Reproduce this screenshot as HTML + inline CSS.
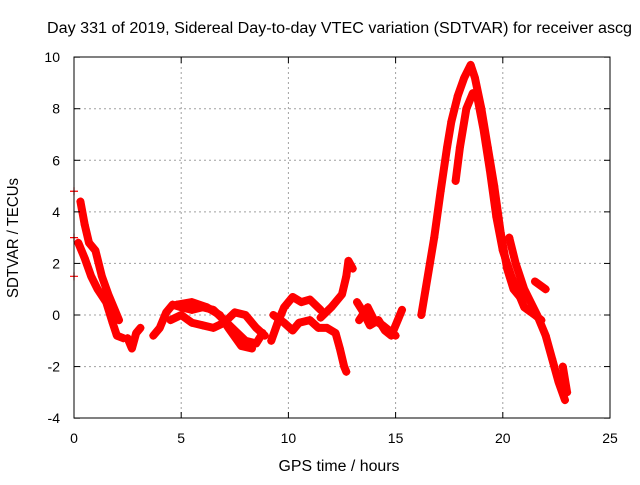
<!DOCTYPE html>
<html><head><meta charset="utf-8"><style>
body{margin:0;background:#fff}
svg text{font-family:"Liberation Sans",sans-serif;font-size:14px;fill:#000}
</style></head><body>
<svg id="chart" width="640" height="480" xmlns="http://www.w3.org/2000/svg">
<rect width="640" height="480" fill="#fff"/>
<text x="47" y="33" style="font-size:15.5px" textLength="585" lengthAdjust="spacingAndGlyphs">Day 331 of 2019, Sidereal Day-to-day VTEC variation (SDTVAR) for receiver ascg</text>
<g id="grid"></g>
<g id="data"></g>
<rect x="74" y="57" width="536" height="361" fill="none" stroke="#000" stroke-width="1"/>
<g id="ticks"></g>
<text x="339" y="471" text-anchor="middle" style="font-size:15.5px" textLength="121" lengthAdjust="spacingAndGlyphs">GPS time / hours</text>
<text transform="translate(18,238) rotate(-90)" text-anchor="middle" style="font-size:15.5px" textLength="120" lengthAdjust="spacingAndGlyphs">SDTVAR / TECUs</text>
</svg>
<script>
const xTicks=[0,5,10,15,20,25];
const yTicks=[-4,-2,0,2,4,6,8,10];
const track1=[[0.3,4.4],[0.5,3.5],[0.7,2.8],[1.0,2.5],[1.3,1.5],[1.6,0.8],[1.9,0.2],[2.1,-0.2]];
const track2=[[0.2,2.8],[0.5,2.2],[0.8,1.5],[1.1,1.0],[1.5,0.5],[1.8,-0.3],[2.0,-0.8],[2.3,-0.9]];
const track3=[[2.5,-0.9],[2.7,-1.3],[2.9,-0.7],[3.1,-0.5]];
const trackA=[[3.7,-0.8],[4.0,-0.5],[4.3,0.1],[4.6,0.4],[5.0,0.3],[5.5,0.2],[6.0,0.3],[6.5,0.2],[7.0,-0.2],[7.5,-0.6],[8.0,-1.0],[8.5,-1.1],[8.8,-0.7]];
const trackB=[[4.5,-0.2],[5.0,0],[5.5,-0.3],[6.0,-0.4],[6.5,-0.5],[7.0,-0.3],[7.5,0.1],[8.0,0.0],[8.5,-0.5],[8.9,-0.8]];
const trackC=[[4.8,0.4],[5.5,0.5],[6.2,0.3],[6.8,0],[7.2,-0.5],[7.8,-1.2],[8.3,-1.3]];
const trackD=[[9.2,-1.0],[9.5,-0.3],[9.8,0.3],[10.2,0.7],[10.6,0.5],[11,0.6],[11.5,0.2]];
const trackE=[[9.3,0],[9.8,-0.3],[10.2,-0.6],[10.5,-0.3],[11,-0.2],[11.4,-0.5],[11.8,-0.5],[12.2,-0.7],[12.4,-1.3],[12.6,-2.0],[12.7,-2.2]];
const trackF=[[11.5,-0.1],[12,0.3],[12.5,0.8],[12.7,1.5],[12.8,2.1],[13,1.8]];
const trackG=[[13.2,0.5],[13.5,0.1],[13.8,-0.4],[14.2,-0.2],[14.5,-0.6],[14.8,-0.8],[15.1,-0.2],[15.3,0.2]];
const trackH=[[13.3,-0.2],[13.7,0.3],[14.0,-0.2],[14.4,-0.4],[15.0,-0.8]];
const peak1=[[16.2,0.0],[16.4,1.0],[16.8,3.0],[17.1,4.8],[17.4,6.5],[17.6,7.5],[17.9,8.5],[18.2,9.2],[18.5,9.7],[18.7,9.2],[19.0,8.0],[19.3,6.5],[19.6,5.0],[19.9,3.2],[20.2,1.8],[20.5,1.0],[20.8,0.7]];
const peak2=[[17.8,5.2],[18.0,6.5],[18.3,8.0],[18.6,8.6],[18.8,8.5],[19.1,7.2],[19.4,5.6],[19.7,3.8],[20.0,2.5],[20.4,1.5],[21,0.3],[21.5,0.0],[21.8,-0.2]];
const tail=[[20.3,3.0],[20.6,2.0],[21.0,1.0],[21.3,0.5],[21.6,0.0],[22.0,-0.8],[22.3,-1.7],[22.6,-2.6],[22.9,-3.3]];
const tail2=[[21.5,1.3],[22.0,1.0]];
const tail3=[[22.8,-2.0],[23.0,-3.0]];
const singles=[[0,4.8],[0,3.0],[0,1.5]];
const tracks=[track1,track2,track3,trackA,trackB,trackC,trackD,trackE,trackF,trackG,trackH,peak1,peak2,tail,tail2,tail3];

const X=v=>74+v*(536/25), Y=v=>315-v*(361/14);
const NS='http://www.w3.org/2000/svg';
const mk=(t,a)=>{const e=document.createElementNS(NS,t);for(const k in a)e.setAttribute(k,a[k]);return e;};
const grid=document.getElementById('grid'),ticks=document.getElementById('ticks'),data=document.getElementById('data');
xTicks.forEach(v=>{
  if(v>0&&v<25){const g=mk('line',{x1:X(v),x2:X(v),y1:57,y2:418,stroke:'#a0a0a0','stroke-dasharray':'2,3'});
  
  grid.appendChild(g);}
  ticks.appendChild(mk('line',{x1:X(v),x2:X(v),y1:418,y2:412,stroke:'#000'}));
  ticks.appendChild(mk('line',{x1:X(v),x2:X(v),y1:57,y2:63,stroke:'#000'}));
  const t=mk('text',{x:X(v),y:443,'text-anchor':'middle'});t.textContent=v;
  
  ticks.appendChild(t);
});
yTicks.forEach(v=>{
  if(v>-4&&v<10){const g=mk('line',{x1:74,x2:610,y1:Y(v),y2:Y(v),stroke:'#a0a0a0','stroke-dasharray':'2,3'});
  
  grid.appendChild(g);}
  ticks.appendChild(mk('line',{x1:74,x2:80,y1:Y(v),y2:Y(v),stroke:'#000'}));
  ticks.appendChild(mk('line',{x1:610,x2:604,y1:Y(v),y2:Y(v),stroke:'#000'}));
  const t=mk('text',{x:60,y:Y(v)+5,'text-anchor':'end'});t.textContent=v;
  
  ticks.appendChild(t);
});
function plus(x,y){const p=mk('path',{d:`M${X(x)-4},${Y(y)}h8M${X(x)},${Y(y)-4}v8`,stroke:'#f00','stroke-width':1.2});
  
  data.appendChild(p);}
tracks.forEach(tr=>{
  const pl=mk('polyline',{points:tr.map(p=>X(p[0])+','+Y(p[1])).join(' '),fill:'none',stroke:'#f00','stroke-width':8,'stroke-linejoin':'round','stroke-linecap':'round'});
  
  
  data.appendChild(pl);
  tr.forEach(p=>plus(p[0],p[1]));
});
singles.forEach(p=>plus(p[0],p[1]));
</script>
</body></html>
